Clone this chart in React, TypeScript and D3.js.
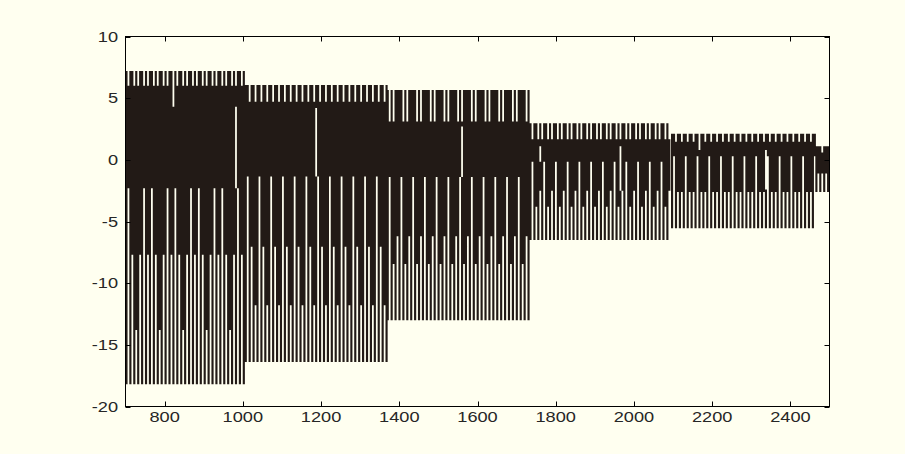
import React from 'react';
import * as d3 from 'd3';

const W = 905;
const H = 454;

const xTicks = [800, 1000, 1200, 1400, 1600, 1800, 2000, 2200, 2400];
const yTicks = [10, 5, 0, -5, -10, -15, -20];

// The signal is a fast pulse train made of constant-amplitude stages.
const stageStart = [700, 1005, 1368, 1733, 2095, 2464];
const stageEnd = [1005, 1368, 1733, 2095, 2464, 2500];
// Upper level of each stage and the level its short dips fall to
const peakLevel = [7.2, 6.07, 5.66, 2.96, 2.12, 1.1];
const dipLevel = [6.0, 4.7, 3.1, 1.66, 1.47, 0.6];
// Trough levels of each stage, deepest first
const troughLevels = [
  [-18.2, -13.8, -7.7, -2.3],
  [-16.4, -11.8, -7.05, -1.35],
  [-13.0, -8.45, -6.2, -1.4],
  [-6.5, -3.8, -2.5, -0.15],
  [-5.55, -2.6, 0.3],
  [-2.6, -1.1],
];
// Repeating cycle of the trough each pulse reaches (index into troughLevels)
const troughCycle = ['030201020302', '030201', '030102030102', '030102', '020101', '01'];
// Repeating cycle of the peaks: a = full peak, b = dip
const peakCycle = ['abaab', 'aab', 'ababaaa', 'abaab', 'aab', 'aaab'];
// Spacing of the pulses along the time axis
const pulseStep = 5;

// Isolated pulses with a break in the middle of their swing
const gapX = [821, 985, 1189, 1562, 1762, 1965, 2170, 2336];
const gapUpper = [7.2, 4.3, 4.2, 2.7, 1.1, 1.1, 2.12, 0.8];
const gapLower = [4.3, -2.3, -1.35, -1.4, -0.15, -2.5, 0.8, -2.4];

const x = d3.scaleLinear().domain([700, 2500]).range([125.5, 829.5]);
const y = d3.scaleLinear().domain([-20, 10]).range([406.5, 36.5]);

type Pulse = { t: number; top: number; bottom: number; gap?: [number, number] };

function buildPulses(): Pulse[] {
  const pulses: Pulse[] = [];
  stageStart.forEach((s0, s) => {
    const n = Math.round((stageEnd[s] - s0) / pulseStep);
    const tc = troughCycle[s];
    const pc = peakCycle[s];
    for (let i = 0; i < n; i++) {
      const t = s0 + (i + 0.5) * pulseStep;
      const bottom = troughLevels[s][+tc[i % tc.length]];
      const top = pc[i % pc.length] === 'a' ? peakLevel[s] : dipLevel[s];
      pulses.push({ t, top, bottom });
    }
  });
  gapX.forEach((t, k) => {
    const idx = d3.leastIndex(pulses, (p) => Math.abs(p.t - t));
    if (idx !== undefined) pulses[idx].gap = [gapUpper[k], gapLower[k]];
  });
  return pulses;
}

function pulsePath(p: Pulse): string {
  const px = x(p.t).toFixed(2);
  const seg = (a: number, b: number) => (a > b ? `M${px},${y(a).toFixed(2)}V${y(b).toFixed(2)}` : '');
  if (!p.gap) return seg(p.top, p.bottom);
  const [gu, gl] = p.gap;
  return seg(p.top, Math.max(gu, p.bottom)) + seg(Math.min(gl, p.top), p.bottom);
}

export default function App() {
  const pulses = buildPulses();
  const d = pulses.map(pulsePath).join('');

  const [x0, x1] = x.range();
  const [yb, yt] = y.range();
  const bg = '#FFFFF0';
  const ink = '#221a16';
  const txt = '#262626';
  const tick = 5;

  return (
    <svg
      width={W}
      height={H}
      style={{ position: 'absolute', left: 0, top: 0, display: 'block' }}
      fontFamily="'Liberation Sans', Arial, sans-serif"
    >
      <defs>
        <clipPath id="plotClip">
          <rect x={x0} y={yt} width={x1 - x0} height={yb - yt} />
        </clipPath>
      </defs>
      <rect x={0} y={0} width={W} height={H} fill={bg} />
      <g clipPath="url(#plotClip)">
        <path d={d} stroke={ink} strokeWidth={2.15} fill="none" />
      </g>

      {/* Box and inward ticks */}
      <rect x={x0} y={yt} width={x1 - x0} height={yb - yt} fill="none" stroke="#000" strokeWidth={1} />
      {xTicks.map((v) => {
        const px = Math.round(x(v)) + 0.5;
        return (
          <g key={`xt${v}`}>
            <line x1={px} x2={px} y1={yb} y2={yb - tick} stroke="#000" />
            <line x1={px} x2={px} y1={yt} y2={yt + tick} stroke="#000" />
            <text
              transform={`translate(${x(v)},421.5) scale(1.3,1)`}
              textAnchor="middle"
              fontSize={14}
              fill={txt}
            >
              {v}
            </text>
          </g>
        );
      })}
      {yTicks.map((v) => {
        const py = Math.round(y(v)) + 0.5;
        return (
          <g key={`yt${v}`}>
            <line x1={x0} x2={x0 + tick} y1={py} y2={py} stroke="#000" />
            <line x1={x1} x2={x1 - tick} y1={py} y2={py} stroke="#000" />
            <text
              transform={`translate(118,${y(v) + 5}) scale(1.3,1)`}
              textAnchor="end"
              fontSize={14}
              fill={txt}
            >
              {v < 0 ? `-${Math.abs(v)}` : v}
            </text>
          </g>
        );
      })}
    </svg>
  );
}
